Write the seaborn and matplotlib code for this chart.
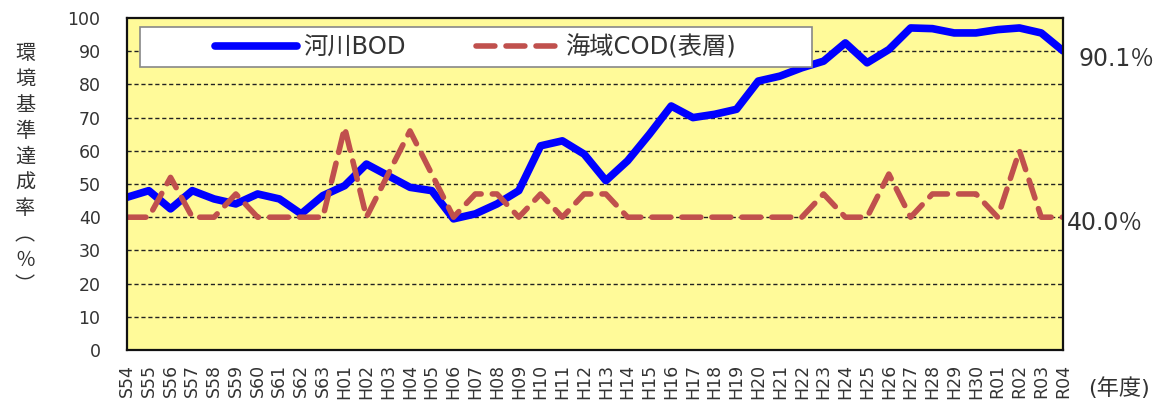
import numpy as np
import pandas as pd
import seaborn as sns
import matplotlib.pyplot as plt
from matplotlib.patches import Rectangle

# fiscal years (Showa 54 .. Reiwa 4)
years = ['S54', 'S55', 'S56', 'S57', 'S58', 'S59', 'S60', 'S61', 'S62', 'S63',
         'H01', 'H02', 'H03', 'H04', 'H05', 'H06', 'H07', 'H08', 'H09', 'H10',
         'H11', 'H12', 'H13', 'H14', 'H15', 'H16', 'H17', 'H18', 'H19', 'H20',
         'H21', 'H22', 'H23', 'H24', 'H25', 'H26', 'H27', 'H28', 'H29', 'H30',
         'R01', 'R02', 'R03', 'R04']

# river BOD achievement rate (%)
river_bod = [46, 48, 42.5, 48, 45.5, 44, 47, 45.5, 41, 46.5,
             49.5, 56, 52.5, 49, 48, 39.5, 41, 44, 48, 61.5,
             63, 59, 51, 57, 65, 73.5, 70, 71, 72.5, 81,
             82.5, 85, 87, 92.5, 86.5, 90.5, 97, 96.8, 95.5, 95.5,
             96.5, 97, 95.5, 90.1]

# sea COD (surface) achievement rate (%)
sea_cod = [40, 40, 52, 40, 40, 47, 40, 40, 40, 40,
           67, 40, 53, 66, 53, 40, 47, 47, 40, 47,
           40, 47, 47, 40, 40, 40, 40, 40, 40, 40,
           40, 40, 47, 40, 40, 53, 40, 47, 47, 47,
           40, 60, 40, 40]

labels = ['河川BOD', '海域COD(表層)']
end_labels = ['90.1％', '40.0％']

df = pd.DataFrame({'year': years, 'bod': river_bod, 'cod': sea_cod})

sns.set_theme(style='white')
plt.rcParams['font.family'] = ['DejaVu Sans', 'Noto Sans CJK JP']
txt = '#333333'

fig = plt.figure(figsize=(11.64, 4.08), dpi=100)
ax = fig.add_axes([127 / 1164, 1 - 350 / 408, 936 / 1164, 332 / 408])
ax.set_facecolor('#FFFA99')

sns.lineplot(data=df, x='year', y='bod', ax=ax, color='#0000FF', lw=5.5,
             label=labels[0], solid_capstyle='round', sort=False)
sns.lineplot(data=df, x='year', y='cod', ax=ax, color='#C0504D', lw=4,
             label=labels[1], sort=False)
ax.lines[1].set_dashes((3.4, 2.0))
ax.lines[1].set_dash_capstyle('round')

ax.set_xlim(0, len(years) - 1)
ax.set_ylim(0, 100)
ax.set_yticks(range(0, 101, 10))
for v in range(10, 100, 10):
    ax.axhline(v, color='#222222', lw=1, ls=(0, (3, 2)), zorder=1)

ax.tick_params(axis='both', direction='in', length=4, width=1, color='#222222')
ax.tick_params(axis='y', pad=19, labelsize=12.5, labelcolor=txt)
ax.tick_params(axis='x', pad=10, labelsize=12.5, labelcolor=txt, labelrotation=90)
ax.set_xlabel('')
ax.set_ylabel('')
for s in ax.spines.values():
    s.set_color('#111111')
    s.set_linewidth(1.6)

# legend frame + legend
ax.add_patch(Rectangle((0.0139, 0.852), 0.718, 0.121, transform=ax.transAxes,
                       facecolor='white', edgecolor='#888888', lw=1.2, zorder=4))
leg = ax.legend(loc='center', bbox_to_anchor=(0.372, 0.9127), ncol=2,
                frameon=False, fontsize=17.5, handlelength=3.4,
                handletextpad=0.25, columnspacing=2.9, borderaxespad=0)
for t in leg.get_texts():
    t.set_color(txt)
leg.set_zorder(5)

# end-value labels
ax.annotate(end_labels[0], xy=(len(years) - 1, river_bod[-1]), xytext=(11, -6),
            textcoords='offset points', va='center', ha='left', fontsize=17,
            color=txt, annotation_clip=False)
ax.annotate(end_labels[1], xy=(len(years) - 1, sea_cod[-1]), xytext=(3, -4),
            textcoords='offset points', va='center', ha='left', fontsize=17,
            color=txt, annotation_clip=False)

fig.text(25 / 1164, 1 - 170 / 408, '\n'.join('環境基準達成率︵％︶'),
         ha='center', va='center', fontsize=14.5, color=txt, linespacing=1.45)
fig.text(1088 / 1164, 1 - 388 / 408, '(年度)', ha='left', va='center',
         fontsize=16, color=txt)

fig.savefig('out.png', dpi=100)
